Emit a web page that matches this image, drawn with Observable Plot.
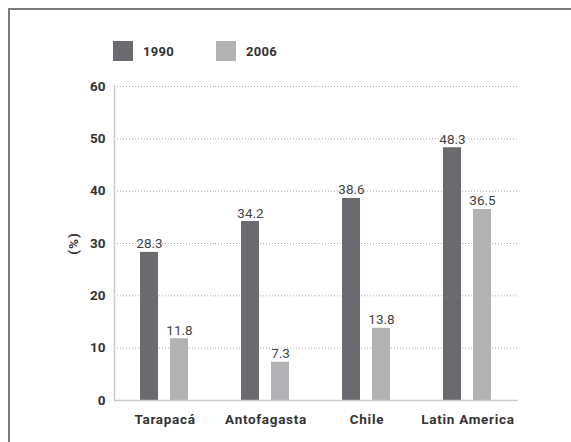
<!DOCTYPE html>
<html>
<head>
<meta charset="utf-8">
<script src="https://cdn.jsdelivr.net/npm/d3@7"></script>
<script src="https://cdn.jsdelivr.net/npm/@observablehq/plot@0.6"></script>
<style>
  html, body { margin: 0; padding: 0; background: #fff; }
  body { width: 571px; height: 442px; overflow: hidden; position: relative; font-family: Roboto, "DejaVu Sans", sans-serif; }
  #frame { position: absolute; left: 8px; top: 8px; width: 600px; height: 500px; border-left: 2px solid #7a7a7a; border-top: 2px solid #7a7a7a; pointer-events: none; }
  #legend { height: 70px; position: relative; }
  #legend .item { position: absolute; top: 41px; display: flex; align-items: center; font-weight: 700; font-size: 13px; color: #333; letter-spacing: 0.3px; }
  #legend .sw { width: 20px; height: 20px; margin-right: 10px; }
  svg { display: block; }
  svg g[aria-label="fx-axis tick label"] text { letter-spacing: 0.7px; }
  svg g[aria-label="y-axis label"] text { letter-spacing: 1px; }
</style>
</head>
<body>
<div id="frame"></div>
<div id="legend"></div>
<div id="chart"></div>
<script>
const regions = ["Tarapacá", "Antofagasta", "Chile", "Latin America"];
const years = ["1990", "2006"];
const values1990 = [28.3, 34.2, 38.6, 48.3];
const values2006 = [11.8, 7.3, 13.8, 36.5];
const yTicks = [0, 10, 20, 30, 40, 50, 60];
const colors = ["#6b6b6f", "#b2b2b4"];

const data = [];
regions.forEach((r, i) => {
  data.push({region: r, year: years[0], value: values1990[i]});
  data.push({region: r, year: years[1], value: values2006[i]});
});

// legend
const legend = document.getElementById("legend");
const legendLeft = [113, 216];
years.forEach((y, i) => {
  const it = document.createElement("div");
  it.className = "item";
  it.style.left = legendLeft[i] + "px";
  it.innerHTML = `<div class="sw" style="background:${colors[i]}"></div><span>${y}</span>`;
  legend.appendChild(it);
});

const chart = Plot.plot({
  width: 571,
  height: 372,
  marginLeft: 113,
  marginRight: 53,
  marginTop: 16,
  marginBottom: 42,
  style: {fontFamily: "Roboto, 'DejaVu Sans', sans-serif", background: "transparent"},
  fx: {domain: regions, padding: 0, label: null, axis: null},
  x: {domain: years, paddingInner: 0.387, paddingOuter: 0.823, axis: null},
  y: {domain: [0, 60], label: null},
  color: {domain: years, range: colors},
  marks: [
    Plot.gridY(yTicks.filter(d => d > 0), {stroke: "#aaa", strokeOpacity: 1, strokeDasharray: "1,2", strokeWidth: 1}),
    Plot.barY(data, {fx: "region", x: "year", y: "value", fill: "year"}),
    Plot.text(data, {fx: "region", x: "year", y: "value", text: d => d.value.toFixed(1), lineAnchor: "bottom", dy: -4, fontSize: 13.5, fill: "#444"}),
    Plot.ruleY([0], {stroke: "#ccc", strokeWidth: 1.5}),
    Plot.frame({anchor: "left", facetAnchor: "left", stroke: "#ccc", strokeWidth: 1.5}),
    Plot.axisY(yTicks, {tickSize: 0, tickPadding: 9, fontSize: 13.5, fontWeight: "bold", fill: "#333", label: "(%)", labelAnchor: "center", labelArrow: "none", labelOffset: 46}),
    Plot.axisFx({anchor: "bottom", tickSize: 0, tickPadding: 14, fontSize: 13.5, fontWeight: "bold", fill: "#333", label: null})
  ]
});
document.getElementById("chart").appendChild(chart);
</script>
</body>
</html>
